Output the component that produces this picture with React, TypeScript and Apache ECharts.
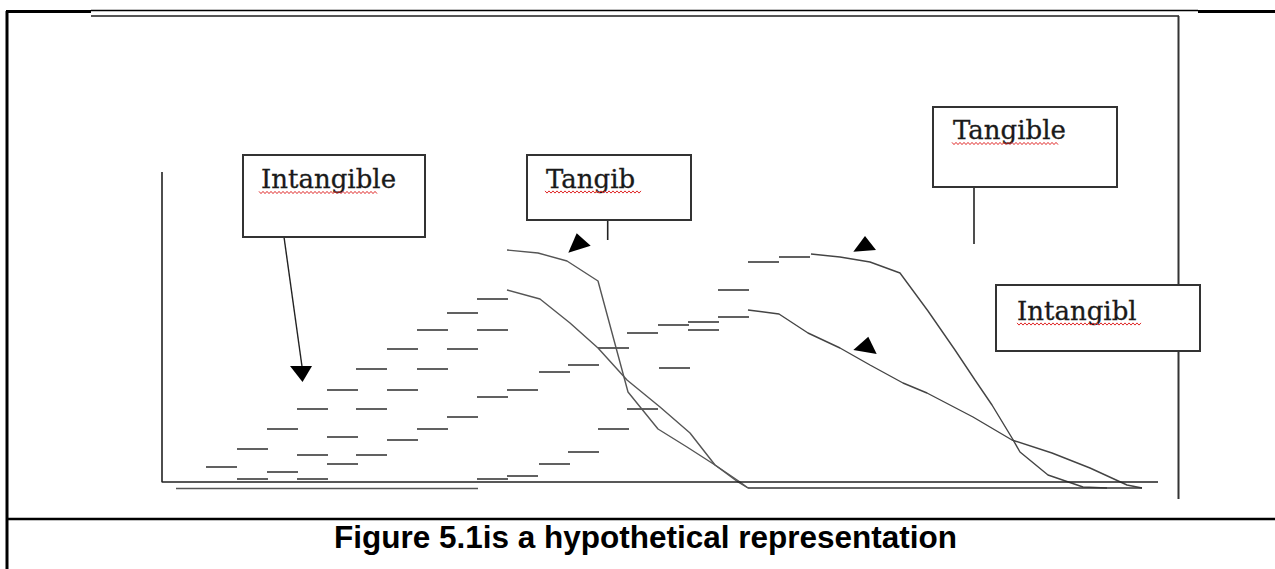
import React, { useEffect, useRef } from "react";
import * as echarts from "echarts";

// Value space: origin at the drawn axes' corner, x to the right, y upward.
const X_MIN = -162;
const X_MAX = 1113;
const Y_MIN = -87;
const Y_MAX = 482;
const DASH_LEN = 31;

// Dashed "staircase" marks [xStart, y]
const intangibleUpperDashes: [number, number][] = [
  [44, 15], [75, 33], [105, 53], [135, 73], [165, 92], [194, 113], [225, 133],
  [255, 152], [285, 169], [315, 183],
];
const intangibleLowerDashes: [number, number][] = [
  [75, 3], [105, 10], [135, 3], [165, 18], [135, 27], [194, 27], [165, 45],
  [225, 42], [255, 53], [285, 65], [194, 73], [315, 85], [225, 92], [255, 113],
  [285, 133], [315, 152], [315, 3],
];
const transitionDashes: [number, number][] = [
  [345, 6], [377, 18], [406, 30], [436, 53], [465, 73], [345, 92], [377, 110],
  [406, 117], [436, 134], [465, 149], [496, 157], [526, 160], [526, 152],
  [556, 165], [556, 192], [586, 220], [617, 225], [497, 114],
];

// Curves
const tangibCurve: [number, number][] = [
  [345, 232], [376, 229], [405, 221], [436, 201], [466, 90], [496, 53],
  [525, 35], [553, 17], [576, 0], [586, -6],
];
const intangibCurve: [number, number][] = [
  [345, 192], [378, 183], [408, 159], [436, 134], [465, 102], [498, 75],
  [528, 49], [553, 17], [578, 0], [586, -6],
];
const tangibleCurve: [number, number][] = [
  [649, 228], [678, 225], [708, 220], [738, 209], [766, 171], [793, 132],
  [813, 102], [830, 77], [850, 44], [858, 30], [886, 7], [921, -5], [945, -6],
];
const intangiblCurve: [number, number][] = [
  [586, 172], [617, 168], [646, 149], [678, 134], [708, 117], [741, 99],
  [765, 89], [811, 65], [850, 42], [890, 29], [928, 14], [965, -3], [980, -6],
];

// Axes and base lines
const yAxisLine: [number, number][] = [[0, 310], [0, 0], [996, 0]];
const leftBaseLine: [number, number][] = [[14, -6.5], [316, -6.5]];
const rightBaseLine: [number, number][] = [[586, -6], [980, -6]];

// Labels
const labelTexts = ["Intangible", "Tangib", "Tangible", "Intangibl"];
const captionText = "Figure 5.1is a hypothetical representation";

const wavy = (x0: number, x1: number, y: number) => {
  const pts: number[][] = [];
  let up = true;
  for (let x = x0; x <= x1; x += 2) {
    pts.push([x, up ? y - 1.1 : y + 1.1]);
    up = !up;
  }
  return pts;
};

const lineSeries = (data: [number, number][], color: string, width: number) => ({
  type: "line",
  data,
  symbol: "none",
  silent: true,
  clip: false,
  lineStyle: { color, width },
  z: 3,
});

const dashSeries = (data: [number, number][]) => ({
  type: "custom",
  coordinateSystem: "cartesian2d",
  data,
  clip: false,
  silent: true,
  z: 3,
  renderItem: (_p: any, api: any) => {
    const a = api.coord([api.value(0), api.value(1)]);
    const b = api.coord([api.value(0) + DASH_LEN, api.value(1)]);
    return {
      type: "line",
      shape: { x1: a[0], y1: a[1], x2: b[0], y2: b[1] },
      style: { stroke: "#454545", lineWidth: 1.7 },
    };
  },
});

export default function App() {
  const ref = useRef<HTMLDivElement>(null);

  useEffect(() => {
    if (!ref.current) return;
    const chart = echarts.init(ref.current, undefined, { renderer: "svg" });

    const serif = '26px "DejaVu Serif"';
    const box = (x: number, y: number, w: number, h: number) => ({
      type: "rect",
      shape: { x, y, width: w, height: h },
      style: { fill: "#fff", stroke: "#333", lineWidth: 2 },
      z: 10,
    });
    const label = (text: string, x: number, baseline: number) => ({
      type: "text",
      style: {
        text,
        x,
        y: baseline - 9,
        font: serif,
        fill: "#1a1a1a",
        stroke: "#1a1a1a",
        lineWidth: 0.3,
        verticalAlign: "middle",
        textVerticalAlign: "middle",
      },
      z: 11,
    });
    const underline = (x0: number, x1: number, y: number) => ({
      type: "polyline",
      shape: { points: wavy(x0, x1, y) },
      style: { stroke: "#e02a2a", lineWidth: 1, fill: null },
      z: 12,
    });
    const seg = (x1: number, y1: number, x2: number, y2: number, w: number, c = "#111") => ({
      type: "line",
      shape: { x1, y1, x2, y2 },
      style: { stroke: c, lineWidth: w },
      z: 5,
    });
    const tri = (pts: number[][]) => ({
      type: "polygon",
      shape: { points: pts },
      style: { fill: "#000" },
      z: 6,
    });

    chart.setOption({
      animation: false,
      grid: { left: 0, right: 0, top: 0, bottom: 0 },
      xAxis: { type: "value", min: X_MIN, max: X_MAX, show: false },
      yAxis: { type: "value", min: Y_MIN, max: Y_MAX, show: false },
      series: [
        dashSeries(intangibleUpperDashes),
        dashSeries(intangibleLowerDashes),
        dashSeries(transitionDashes),
        lineSeries(tangibCurve, "#555", 1.4),
        lineSeries(intangibCurve, "#555", 1.4),
        lineSeries(tangibleCurve, "#444", 1.4),
        lineSeries(intangiblCurve, "#444", 1.4),
        lineSeries(yAxisLine, "#222", 1.6),
        lineSeries(leftBaseLine, "#555", 1.6),
        lineSeries(rightBaseLine, "#333", 1.6),
      ],
      graphic: [
        // frame
        seg(7, 11, 7, 569, 3, "#000"),
        seg(6, 11.5, 91, 11.5, 3, "#000"),
        seg(91, 10.5, 1198, 10.5, 1.5, "#000"),
        seg(1198, 11.5, 1275, 11.5, 3, "#000"),
        seg(91, 16, 1179, 16, 2, "#555"),
        seg(1178.5, 16, 1178.5, 499, 2, "#333"),
        seg(7, 519, 1275, 519, 2.5, "#000"),
        // connectors
        seg(284, 237, 302.5, 370, 1.4, "#222"),
        seg(607.7, 220, 607.7, 240, 1.6, "#222"),
        seg(974, 187, 974, 244, 1.6, "#222"),
        // arrowheads
        tri([[290, 366], [312, 366], [302.5, 382]]),
        tri([[568.3, 252.7], [576.7, 233.3], [590.7, 245.7]]),
        tri([[853.3, 251.7], [865, 236], [876, 250]]),
        tri([[853.3, 350], [868.3, 336.7], [876.7, 354]]),
        // boxes
        box(243, 155, 182, 82),
        box(527, 155, 164, 65),
        box(933, 107, 184, 80),
        box(996, 285, 204, 66),
        label(labelTexts[0], 261, 188),
        label(labelTexts[1], 546, 187.7),
        label(labelTexts[2], 953, 139.3),
        label(labelTexts[3], 1017, 319.5),
        underline(259, 377, 192.5),
        underline(545, 641, 192),
        underline(952, 1058, 143.5),
        underline(1017, 1142, 324),
        // caption
        {
          type: "text",
          style: {
            text: captionText,
            x: 645.5,
            y: 548 - 10.8,
            font: 'bold 31.5px "Liberation Sans", Arial, sans-serif',
            fill: "#000",
            align: "center",
            textAlign: "center",
            verticalAlign: "middle",
            textVerticalAlign: "middle",
          },
          z: 11,
        },
      ],
    });

    return () => chart.dispose();
  }, []);

  return (
    <div
      ref={ref}
      style={{ position: "absolute", left: 0, top: 0, width: 1275, height: 569, background: "#fff" }}
    />
  );
}
